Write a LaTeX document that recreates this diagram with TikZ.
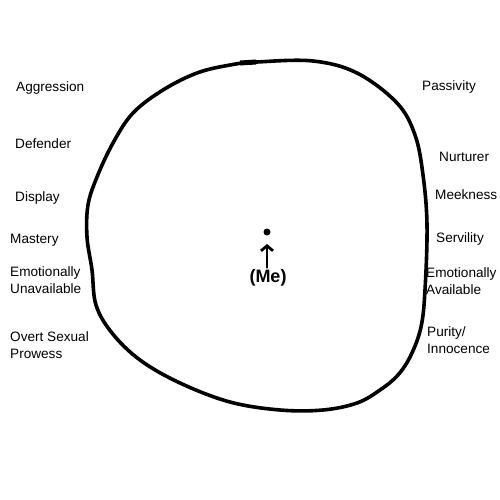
\documentclass[tikz,border=0pt]{standalone}
\usepackage{fontspec}
\setmainfont{Liberation Sans}
\usetikzlibrary{arrows.meta}
\begin{document}
\begin{tikzpicture}[x=1pt,y=-1pt,
  lbl/.style={anchor=west,align=left,font=\fontsize{13.6}{17.5}\selectfont,inner sep=0pt},
  blob/.style={line width=3.6pt,line join=round,line cap=round},
  pen/.style={line width=2.8pt,line cap=round}]
\fill[white] (0,0) rectangle (500,500);
\useasboundingbox (0,0) rectangle (500,500);
% the hand-drawn circle
\draw[blob] plot[smooth cycle,tension=0.6] coordinates {
 (230,65) (257,62) (313,61) (357,73) (397,103) (415,135) (423,175) (427,225)
 (425,290) (421,327) (411,355) (398,375) (380,390) (357,403) (323,410) (280,410)
 (230,402) (180,383) (140,360) (112,333) (96,305) (92,270) (87,237) (88,205)
 (97,177) (113,143) (133,113) (163,90) (197,73)};
\draw[line width=5pt] (240,63) -- (256,62);
% centre
\node[circle,fill=black,minimum size=7pt,inner sep=0pt] (dot) at (267,232) {};
\node[font=\fontsize{18}{18}\selectfont\bfseries,inner sep=0pt] (me) at (268,278) {(Me)};
\coordinate (tip) at (267,244);
\draw[pen,-{Straight Barb[length=5pt,width=12pt,line width=2.8pt]}] (me.north) ++(-1,-2) -- (tip);
% left labels
\node[lbl] (l1) at (16,88) {Aggression};
\node[lbl] (l2) at (15,144) {Defender};
\node[lbl] (l3) at (15,198) {Display};
\node[lbl] (l4) at (10,240) {Mastery};
\node[lbl] (l5) at (10,280) {Emotionally\\Unavailable};
\node[lbl] (l6) at (10,345) {Overt Sexual\\Prowess};
% right labels
\node[lbl] (r1) at (422,87) {Passivity};
\node[lbl] (r2) at (439,157) {Nurturer};
\node[lbl] (r3) at (435,195) {Meekness};
\node[lbl] (r4) at (436,239) {Servility};
\node[lbl] (r5) at (426,281) {Emotionally\\Available};
\node[lbl] (r6) at (427,340) {Purity/\\Innocence};
\end{tikzpicture}
\end{document}
